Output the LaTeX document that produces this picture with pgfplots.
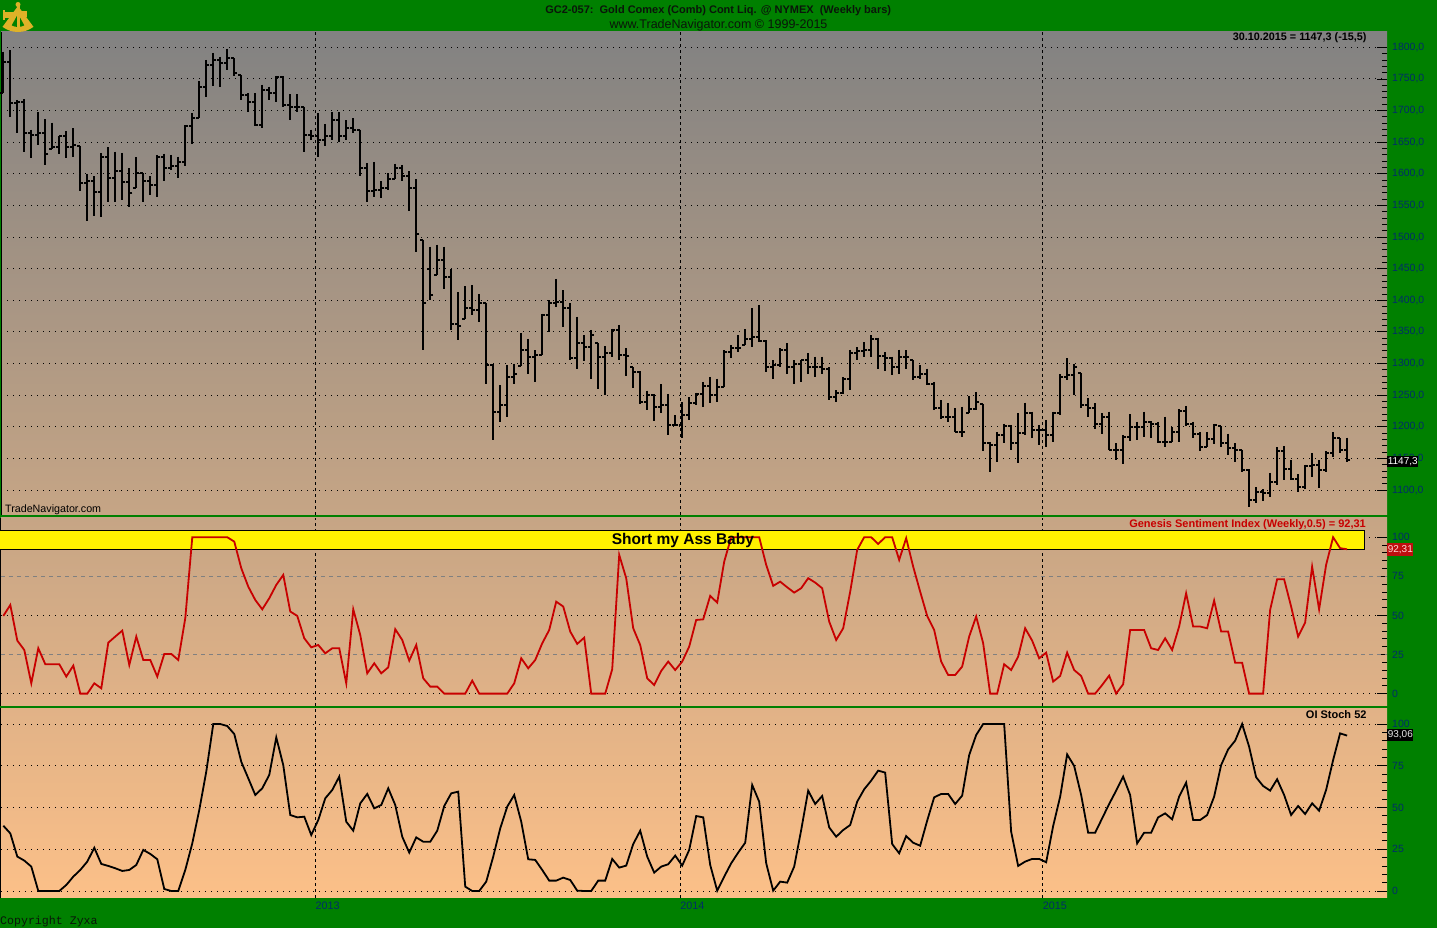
\documentclass[border=0pt]{standalone}
\usepackage{pgfplots}
\pgfplotsset{compat=1.18}
\usepackage{pgfplotstable}
\usepackage{fontspec}
\setmainfont{Liberation Sans}
\setmonofont{Liberation Mono}
\definecolor{tngreen}{RGB}{0,128,0}
\definecolor{navy}{RGB}{0,45,105}
\definecolor{gsired}{RGB}{200,0,0}
\definecolor{titlecol}{RGB}{10,22,10}
\definecolor{goldc}{RGB}{222,178,40}
\definecolor{p1top}{RGB}{130,130,130}
\definecolor{p1bot}{RGB}{198,165,133}
\definecolor{p2top}{RGB}{198,165,133}
\definecolor{p2bot}{RGB}{225,178,135}
\definecolor{p3top}{RGB}{225,178,135}
\definecolor{p3bot}{RGB}{252,192,136}

\pgfdeclareplotmark{otick}{\pgfpathmoveto{\pgfqpoint{-\pgfplotmarksize}{0pt}}\pgfpathlineto{\pgfqpoint{0pt}{0pt}}\pgfusepathqstroke}
\pgfdeclareplotmark{ctick}{\pgfpathmoveto{\pgfqpoint{\pgfplotmarksize}{0pt}}\pgfpathlineto{\pgfqpoint{0pt}{0pt}}\pgfusepathqstroke}

\pgfplotstableread{
i O H L C
0 1728 1793 1727 1777
1 1777 1795 1690 1712
2 1712 1717 1664 1713
3 1713 1718 1635 1665
4 1665 1670 1625 1662
5 1662 1697 1646 1664
6 1664 1686 1614 1632
7 1639 1681 1639 1643
8 1643 1660 1632 1659
9 1659 1667 1625 1643
10 1643 1672 1626 1646
11 1644 1644 1572 1585
12 1585 1600 1526 1588
13 1588 1596 1533 1571
14 1571 1633 1532 1627
15 1627 1642 1556 1593
16 1593 1635 1556 1604
17 1604 1633 1559 1587
18 1587 1609 1548 1569
19 1577 1626 1577 1601
20 1601 1601 1556 1588
21 1588 1596 1567 1583
22 1583 1630 1564 1626
23 1626 1632 1588 1609
24 1609 1630 1606 1612
25 1612 1627 1593 1619
26 1619 1677 1612 1675
27 1675 1696 1647 1688
28 1688 1746 1688 1738
29 1738 1780 1721 1772
30 1772 1791 1739 1780
31 1780 1785 1738 1775
32 1775 1798 1764 1783
33 1783 1783 1754 1759
34 1756 1756 1717 1725
35 1725 1727 1698 1714
36 1714 1727 1675 1677
37 1677 1741 1672 1733
38 1733 1738 1717 1728
39 1728 1755 1714 1753
40 1753 1754 1706 1709
41 1709 1726 1685 1706
42 1706 1726 1697 1706
43 1706 1706 1635 1662
44 1662 1670 1654 1660
45 1660 1696 1626 1654
46 1654 1679 1644 1660
47 1660 1697 1654 1685
48 1685 1697 1651 1659
49 1659 1685 1654 1672
50 1672 1688 1664 1669
51 1669 1670 1596 1609
52 1609 1617 1556 1572
53 1572 1619 1564 1575
54 1575 1588 1562 1577
55 1577 1601 1575 1591
56 1591 1616 1591 1609
57 1609 1614 1588 1596
58 1596 1604 1541 1577
59 1577 1591 1477 1504
60 1496 1496 1321 1396
61 1450 1485 1401 1408
62 1440 1488 1440 1464
63 1464 1485 1418 1437
64 1437 1450 1353 1363
65 1363 1413 1337 1360
66 1371 1422 1371 1387
67 1387 1424 1376 1384
68 1384 1410 1366 1395
69 1395 1395 1268 1297
70 1297 1300 1179 1224
71 1224 1266 1208 1234
72 1234 1297 1216 1279
73 1279 1300 1268 1284
74 1296 1348 1296 1321
75 1321 1339 1283 1310
76 1310 1321 1271 1313
77 1313 1379 1313 1376
78 1376 1400 1350 1395
79 1395 1434 1390 1397
80 1397 1416 1358 1387
81 1387 1395 1305 1308
82 1308 1374 1291 1332
83 1332 1345 1304 1326
84 1326 1353 1276 1345
85 1332 1332 1259 1311
86 1311 1327 1250 1316
87 1316 1355 1311 1353
88 1353 1361 1305 1313
89 1313 1324 1280 1312
90 1294 1294 1261 1287
91 1287 1288 1236 1239
92 1239 1257 1226 1250
93 1250 1252 1209 1232
94 1232 1267 1221 1234
95 1234 1252 1187 1203
96 1203 1218 1201 1203
97 1203 1239 1182 1218
98 1218 1247 1211 1237
99 1237 1254 1234 1252
100 1252 1271 1232 1264
101 1264 1279 1237 1250
102 1250 1276 1239 1263
103 1263 1321 1263 1318
104 1318 1329 1308 1324
105 1324 1345 1318 1324
106 1329 1354 1329 1338
107 1338 1388 1326 1342
108 1342 1392 1334 1336
109 1336 1337 1287 1294
110 1294 1305 1276 1297
111 1297 1324 1295 1321
112 1321 1332 1284 1295
113 1295 1305 1268 1300
114 1300 1306 1271 1305
115 1305 1316 1284 1295
116 1295 1311 1279 1294
117 1294 1311 1284 1292
118 1292 1294 1242 1247
119 1247 1258 1239 1253
120 1253 1278 1252 1276
121 1276 1322 1258 1317
122 1317 1326 1305 1320
123 1320 1334 1310 1321
124 1321 1345 1310 1339
125 1339 1341 1292 1312
126 1312 1318 1288 1308
127 1308 1311 1282 1295
128 1295 1322 1283 1311
129 1311 1321 1292 1310
130 1305 1305 1274 1279
131 1279 1297 1276 1284
132 1284 1292 1266 1268
133 1268 1271 1226 1229
134 1229 1242 1213 1216
135 1216 1237 1208 1216
136 1216 1229 1191 1192
137 1192 1232 1184 1192
138 1222 1248 1222 1228
139 1228 1255 1226 1239
140 1236 1236 1161 1174
141 1174 1176 1129 1171
142 1171 1192 1145 1187
143 1187 1205 1174 1201
144 1201 1203 1163 1175
145 1175 1221 1142 1190
146 1190 1238 1187 1222
147 1222 1224 1182 1195
148 1195 1203 1171 1195
149 1195 1211 1168 1187
150 1187 1224 1176 1221
151 1221 1283 1218 1279
152 1279 1308 1274 1282
153 1282 1300 1250 1295
154 1285 1285 1229 1234
155 1234 1245 1216 1229
156 1229 1237 1197 1204
157 1204 1221 1189 1216
158 1216 1224 1163 1164
159 1164 1174 1147 1164
160 1164 1187 1141 1184
161 1184 1220 1178 1200
162 1200 1208 1179 1200
163 1200 1224 1184 1208
164 1208 1209 1182 1205
165 1205 1208 1174 1176
166 1176 1216 1168 1176
167 1176 1200 1176 1191
168 1191 1228 1176 1225
169 1225 1233 1201 1205
170 1205 1208 1182 1189
171 1189 1192 1162 1168
172 1168 1192 1168 1180
173 1180 1205 1173 1203
174 1201 1201 1168 1174
175 1174 1189 1155 1166
176 1166 1174 1145 1163
177 1163 1164 1129 1132
178 1132 1133 1073 1084
179 1084 1104 1079 1097
180 1097 1101 1082 1096
181 1096 1127 1089 1113
182 1113 1168 1108 1161
183 1161 1169 1116 1134
184 1134 1147 1116 1118
185 1118 1125 1097 1105
186 1105 1140 1101 1138
187 1138 1158 1121 1140
188 1140 1147 1103 1132
189 1132 1161 1129 1158
190 1158 1191 1152 1182
191 1182 1182 1159 1163
192 1163 1183 1145 1147.3
}\price

\pgfplotstableread[row sep=\\]{
i v\\
0 49.7\\ 1 56.7\\ 2 33.9\\ 3 27.9\\ 4 6.6\\ 5 29\\ 6 18.8\\ 7 18.8\\ 8 18.8\\ 9 10.9\\
10 17.9\\ 11 0\\ 12 0\\ 13 6.6\\ 14 3.4\\ 15 32.6\\ 16 36.5\\ 17 40.3\\ 18 18.3\\ 19 36.5\\
20 21.5\\ 21 21.5\\ 22 10.9\\ 23 25.4\\ 24 25.4\\ 25 21.5\\ 26 48.2\\ 27 100\\ 28 100\\ 29 100\\
30 100\\ 31 100\\ 32 100\\ 33 97.2\\ 34 80.2\\ 35 68.4\\ 36 59.9\\ 37 53.9\\ 38 61\\ 39 69.5\\
40 75.9\\ 41 52.5\\ 42 49.7\\ 43 35.4\\ 44 29.6\\ 45 31.1\\ 46 25.8\\ 47 29\\ 48 29\\ 49 6.6\\
50 53.9\\ 51 37.5\\ 52 13\\ 53 19.4\\ 54 13\\ 55 16.8\\ 56 41.2\\ 57 34.3\\ 58 21.1\\ 59 31.1\\
60 9.8\\ 61 4.5\\ 62 4.5\\ 63 0\\ 64 0\\ 65 0\\ 66 0\\ 67 8.3\\ 68 0\\ 69 0\\
70 0\\ 71 0\\ 72 0\\ 73 6.6\\ 74 22.6\\ 75 16.2\\ 76 21.5\\ 77 32.2\\ 78 40.7\\ 79 58.8\\
80 55.7\\ 81 39.7\\ 82 31.8\\ 83 35.8\\ 84 0\\ 85 0\\ 86 0\\ 87 15.6\\ 88 88.7\\ 89 73.8\\
90 41.8\\ 91 31.1\\ 92 9.8\\ 93 5.5\\ 94 14.5\\ 95 20.5\\ 96 15.1\\ 97 20.5\\ 98 30.1\\ 99 47.1\\
100 47.5\\ 101 62.5\\ 102 58.2\\ 103 84.4\\ 104 100\\ 105 100\\ 106 100\\ 107 100\\ 108 100\\ 109 82.3\\
110 68.9\\ 111 71.6\\ 112 68\\ 113 64.6\\ 114 67.4\\ 115 73.8\\ 116 71\\ 117 67.4\\ 118 46.1\\ 119 34.3\\
120 41.8\\ 121 65.2\\ 122 91.9\\ 123 100\\ 124 100\\ 125 95.7\\ 126 100\\ 127 100\\ 128 85.5\\ 129 99.4\\
130 81.2\\ 131 65.2\\ 132 49.7\\ 133 40.7\\ 134 20.5\\ 135 11.9\\ 136 11.9\\ 137 17.3\\ 138 36.5\\ 139 49.3\\
140 32.2\\ 141 0\\ 142 0\\ 143 18.8\\ 144 15.1\\ 145 23.7\\ 146 41.8\\ 147 33.9\\ 148 22.6\\ 149 26.2\\
150 7.7\\ 151 11.3\\ 152 26.2\\ 153 15.1\\ 154 11.3\\ 155 0\\ 156 0\\ 157 5.5\\ 158 11.5\\ 159 0\\
160 6\\ 161 40.7\\ 162 40.7\\ 163 40.7\\ 164 29\\ 165 27.9\\ 166 35.4\\ 167 27.9\\ 168 42.9\\ 169 64.2\\
170 42.9\\ 171 42.9\\ 172 41.8\\ 173 59.5\\ 174 39.7\\ 175 39.7\\ 176 19.8\\ 177 19.8\\ 178 0\\ 179 0\\
180 0\\ 181 53.5\\ 182 73.1\\ 183 73.1\\ 184 55.7\\ 185 36.5\\ 186 45.4\\ 187 81.2\\ 188 53.9\\ 189 82.3\\
190 100\\ 191 93\\ 192 92.31\\
}\gsi

\pgfplotstableread[row sep=\\]{
i v\\
0 39.1\\ 1 34.5\\ 2 20.6\\ 3 18.2\\ 4 14.6\\ 5 0\\ 6 0\\ 7 0\\ 8 0\\ 9 3.6\\
10 8.6\\ 11 12.6\\ 12 17.6\\ 13 25.9\\ 14 16.2\\ 15 15\\ 16 13.6\\ 17 12\\ 18 12.6\\ 19 15.6\\
20 24.6\\ 21 22.2\\ 22 19\\ 23 1.2\\ 24 0\\ 25 0\\ 26 12.6\\ 27 28.5\\ 28 48.5\\ 29 71.5\\
30 100\\ 31 100\\ 32 98.8\\ 33 94\\ 34 77.4\\ 35 67.5\\ 36 57.5\\ 37 61.5\\ 38 69.5\\ 39 92\\
40 75.4\\ 41 45.5\\ 42 44.1\\ 43 44.5\\ 44 33.5\\ 45 42.5\\ 46 55.5\\ 47 60.5\\ 48 68.5\\ 49 41.5\\
50 36.1\\ 51 52.5\\ 52 58.1\\ 53 49.5\\ 54 51.5\\ 55 61.5\\ 56 51.5\\ 57 32.5\\ 58 23\\ 59 32.1\\
60 29.5\\ 61 29.5\\ 62 36.1\\ 63 50.9\\ 64 58.5\\ 65 59.5\\ 66 2.6\\ 67 0\\ 68 0\\ 69 5.6\\
70 20.6\\ 71 37.5\\ 72 50.5\\ 73 57.5\\ 74 41.5\\ 75 19\\ 76 18.6\\ 77 12.6\\ 78 6.2\\ 79 6.2\\
80 8\\ 81 6.6\\ 82 0.2\\ 83 0\\ 84 0\\ 85 6.2\\ 86 6.2\\ 87 19.2\\ 88 14\\ 89 15.2\\
90 28.1\\ 91 36.1\\ 92 20.6\\ 93 11\\ 94 14.6\\ 95 16\\ 96 21.2\\ 97 15.2\\ 98 24.6\\ 99 44.9\\
100 44.1\\ 101 15.6\\ 102 0.2\\ 103 8.6\\ 104 16.6\\ 105 23\\ 106 28.9\\ 107 63.5\\ 108 53.5\\ 109 16.6\\
110 0.2\\ 111 5.6\\ 112 5\\ 113 14.6\\ 114 36.5\\ 115 60.1\\ 116 52.1\\ 117 56.9\\ 118 38.1\\ 119 32.5\\
120 36.5\\ 121 39.5\\ 122 53.5\\ 123 60.9\\ 124 66.1\\ 125 72.1\\ 126 70.9\\ 127 28.1\\ 128 22.6\\ 129 32.9\\
130 28.9\\ 131 27.1\\ 132 42.1\\ 133 56.1\\ 134 58.1\\ 135 58.1\\ 136 52.1\\ 137 57.1\\ 138 81.4\\ 139 93.4\\
140 100\\ 141 100\\ 142 100\\ 143 100\\ 144 35.5\\ 145 15\\ 146 17.6\\ 147 19.2\\ 148 19.2\\ 149 17.2\\
150 38.9\\ 151 56.5\\ 152 81.8\\ 153 74.9\\ 154 57.5\\ 155 34.9\\ 156 34.9\\ 157 43.5\\ 158 52.1\\ 159 60.1\\
160 68.5\\ 161 57.5\\ 162 28.5\\ 163 34.9\\ 164 34.9\\ 165 44.1\\ 166 46.5\\ 167 42.9\\ 168 56.5\\ 169 64.9\\
170 42.5\\ 171 42.5\\ 172 45.5\\ 173 56.5\\ 174 75.4\\ 175 84.8\\ 176 90\\ 177 100\\ 178 86.4\\ 179 68.1\\
180 62.9\\ 181 60.1\\ 182 66.9\\ 183 57.5\\ 184 45.5\\ 185 50.9\\ 186 46.1\\ 187 52.5\\ 188 48.1\\ 189 60.5\\
190 78.4\\ 191 94.4\\ 192 93.06\\
}\stoch

\tikzset{
  dotgrid/.style={black, line width=0.9pt, dash pattern=on 1pt off 5pt},
}
\pgfplotsset{
  tnbase/.style={
    scale only axis, width=1386pt,
    xmin=-0.33, xmax=197.7,
    axis line style={draw=none},
    xtick={44.6,96.7,148.5}, xticklabels={},
    xmajorgrids, x grid style={black, line width=0.9pt, dash pattern=on 3pt off 3pt},
    xtick style={draw=none},
    ytick pos=right, yticklabel pos=right,
    tick align=inside,
    major tick length=10pt, minor tick length=5pt,
    ytick style={black, line width=0.8pt},
    minor y tick num=4,
    yticklabel style={font=\fontsize{10.5}{12}\selectfont, text=navy, anchor=west, inner sep=0pt, xshift=5pt},
    clip=false,
    /pgf/number format/assume math mode=true,
  },
}

\begin{document}
\begin{tikzpicture}[x=1pt,y=1pt]
\useasboundingbox (0,0) rectangle (1437,928);
\fill[tngreen] (0,0) rectangle (1437,928);

% ---------- price panel ----------
\begin{axis}[tnbase, at={(1pt,896pt)}, anchor=north west, height=483pt,
  ymin=1060.5, ymax=1824.2, ytick={1100,1150,...,1800},
  ymajorgrids, y grid style={dotgrid},
  yticklabel style={/pgf/number format/.cd, fixed, fixed zerofill, precision=1, use comma, 1000 sep={}},
  axis background/.style={top color=p1top, bottom color=p1bot},
]
\draw[black, line width=1pt] (rel axis cs:0,0) -- (rel axis cs:0,1);
\addplot[draw=none, mark=none, forget plot, error bars/.cd, y dir=minus, y explicit, error mark=none,
  error bar style={draw=black, line width=2pt}]
  table[x=i, y=H, y error expr=\thisrow{H}-\thisrow{L}] {\price};
\addplot[only marks, mark=otick, mark size=3pt, mark options={draw=black, line width=2pt}]
  table[x=i, y=O] {\price};
\addplot[only marks, mark=ctick, mark size=3pt, mark options={draw=black, line width=2pt}]
  table[x=i, y=C] {\price};
\node[anchor=base east, inner sep=0pt, font=\bfseries\fontsize{10.8}{12}\selectfont] at (axis cs:194.8,1810) {30.10.2015 = 1147,3 (-15,5)};
\node[anchor=base west, inner sep=0pt, font=\fontsize{10.7}{12}\selectfont] at (axis cs:0.24,1064.1) {TradeNavigator.com};
\end{axis}

% ---------- sentiment panel ----------
\begin{axis}[tnbase, at={(1pt,410pt)}, anchor=north west, height=188pt,
  ymin=-7.9, ymax=112.3, ytick={0,25,50,75,100},
  axis background/.style={top color=p2top, bottom color=p2bot},
]
\draw[black, line width=1pt] (rel axis cs:0,0) -- (rel axis cs:0,1);
\draw[dotgrid] (axis cs:-0.33,0) -- (axis cs:197.7,0);
\draw[dotgrid] (axis cs:-0.33,50) -- (axis cs:197.7,50);
\draw[dotgrid] (axis cs:-0.33,100) -- (axis cs:197.7,100);
\draw[gray, line width=0.8pt, dash pattern=on 4pt off 4pt] (axis cs:-0.33,25) -- (axis cs:197.7,25);
\draw[gray, line width=0.8pt, dash pattern=on 4pt off 4pt] (axis cs:-0.33,75) -- (axis cs:197.7,75);
\filldraw[fill=yellow, draw=black, line width=0.8pt] (axis cs:-0.6,92.3) rectangle (axis cs:194.5,104.2);
\addplot[gsired, line width=1.8pt] table[x=i, y=v] {\gsi};
\node[anchor=base, inner sep=0pt, font=\bfseries\fontsize{15.5}{17}\selectfont] at (axis cs:97.1,95.1) {Short my Ass Baby};
\node[anchor=base east, inner sep=0pt, text=gsired, font=\bfseries\fontsize{11}{12}\selectfont] at (axis cs:194.7,106.4) {Genesis Sentiment Index (Weekly,0.5) = 92,31};
\end{axis}

% ---------- OI stoch panel ----------
\begin{axis}[tnbase, at={(1pt,219.5pt)}, anchor=north west, height=189.5pt,
  ymin=-4.2, ymax=109.3, ytick={0,25,50,75,100},
  ymajorgrids, y grid style={dotgrid},
  xticklabels={2013,2014,2015},
  xticklabel style={font=\fontsize{10.8}{12}\selectfont, text=navy, anchor=north west, inner sep=0pt, yshift=-3.7pt},
  axis background/.style={top color=p3top, bottom color=p3bot},
]
\draw[black, line width=1pt] (rel axis cs:0,0) -- (rel axis cs:0,1);
\addplot[black, line width=1.8pt] table[x=i, y=v] {\stoch};
\node[anchor=base east, inner sep=0pt, font=\bfseries\fontsize{11}{12}\selectfont] at (axis cs:194.8,103.4) {OI Stoch 52};
\end{axis}

% value boxes on the right scale
\node[fill=black, text=white, anchor=west, inner xsep=0.6pt, inner ysep=0pt, minimum height=11pt, font=\fontsize{10}{11}\selectfont] at (1387,466.8) {1147,3};
\node[fill={rgb,255:red,190;green,15;blue,15}, text={rgb,255:red,255;green,215;blue,215}, anchor=west, inner xsep=0.6pt, inner ysep=0pt, minimum height=12.4pt, font=\fontsize{10}{11}\selectfont] at (1387,378.5) {92,31};
\node[fill=black, text={rgb,255:red,230;green,230;blue,230}, anchor=west, inner xsep=0.6pt, inner ysep=0pt, minimum height=11.4pt, font=\fontsize{10}{11}\selectfont] at (1387,193) {93,06};

% header
\node[anchor=base, inner sep=0pt, text=titlecol, font=\bfseries\fontsize{11}{12}\selectfont] at (718.2,914.7) {GC2-057:\ \ Gold Comex (Comb) Cont Liq. @ NYMEX\ \ (Weekly bars)};
\node[anchor=base, inner sep=0pt, text=titlecol, font=\fontsize{12.5}{14}\selectfont] at (718.5,899.7) {www.TradeNavigator.com © 1999-2015};
\node[anchor=base west, inner sep=0pt, text=titlecol, font=\ttfamily\fontsize{11.6}{13}\selectfont] at (0,3) {Copyright Zyxa};

% logo (sextant)
\fill[goldc] (18,922) -- ++(233.4:26) arc[start angle=233.4, end angle=306.6, radius=26] -- cycle;
\fill[tngreen] (18,914) -- ++(241:13) arc[start angle=241, end angle=299, radius=13] -- cycle;
\fill[goldc] (16.5,898) rectangle (19.5,923);
\fill[goldc] (4,910) rectangle (15,916);
\fill[goldc] (3,908) rectangle (5,918);
\fill[goldc] (22,911) rectangle (27,917);
\fill[goldc] (18,923.5) circle (2.5);
\end{tikzpicture}
\end{document}
